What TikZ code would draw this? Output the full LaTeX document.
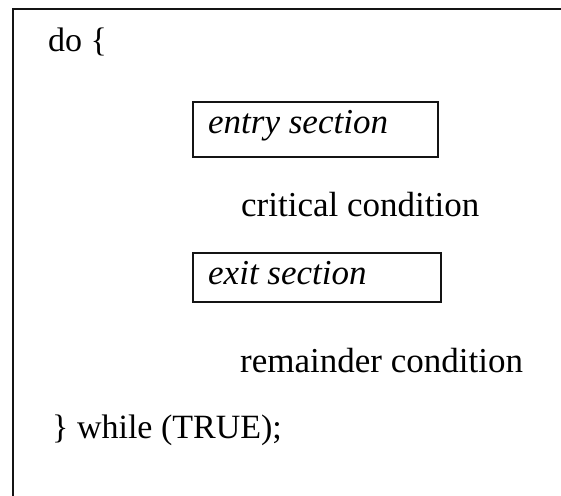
\documentclass[tikz,border=0pt]{standalone}
\usepackage{fontspec}
\setmainfont{Liberation Serif}
\usepackage{xcolor}
\definecolor{codeframe}{RGB}{20,20,20}

\begin{document}
\begin{tikzpicture}[x=1pt,y=-1pt]
    % Define styles
    \tikzstyle{code} = [anchor=base west, inner sep=0pt, font=\fontsize{34}{40}\selectfont]
    \tikzstyle{plain} = [anchor=base west, inner sep=0pt, font=\fontsize{35}{40}\selectfont]
    \tikzstyle{sectiontext} = [anchor=base west, inner sep=0pt, font=\fontsize{35}{40}\selectfont\itshape]
    \tikzstyle{sectionbox} = [rectangle, draw=codeframe, line width=1.3pt, inner sep=0pt]
    \tikzstyle{frame} = [draw=codeframe, line width=2pt]

    \useasboundingbox (0,0) rectangle (561,495);

    % Frame
    \draw [frame] (562,9.5) -- (12.5,9.5) -- (12.5,496);

    % Loop head
    \node (dohead) [code] at (48,52) {do \{};

    % Entry
    \node (entrybox) [sectionbox, minimum width=245pt, minimum height=55pt] at (315.5,129.5) {};
    \node (entry) [sectiontext] at (208,133) {entry section};

    % Critical
    \node (critical) [plain] at (241,216) {critical condition};

    % Exit
    \node (exitbox) [sectionbox, minimum width=248pt, minimum height=49pt] at (317,277.5) {};
    \node (exit) [sectiontext] at (208,284) {exit section};

    % Remainder
    \node (remainder) [plain] at (240,372) {remainder condition};

    % Loop tail
    \node (whiletail) [code] at (52,438) {\} while (TRUE);};
\end{tikzpicture}
\end{document}
